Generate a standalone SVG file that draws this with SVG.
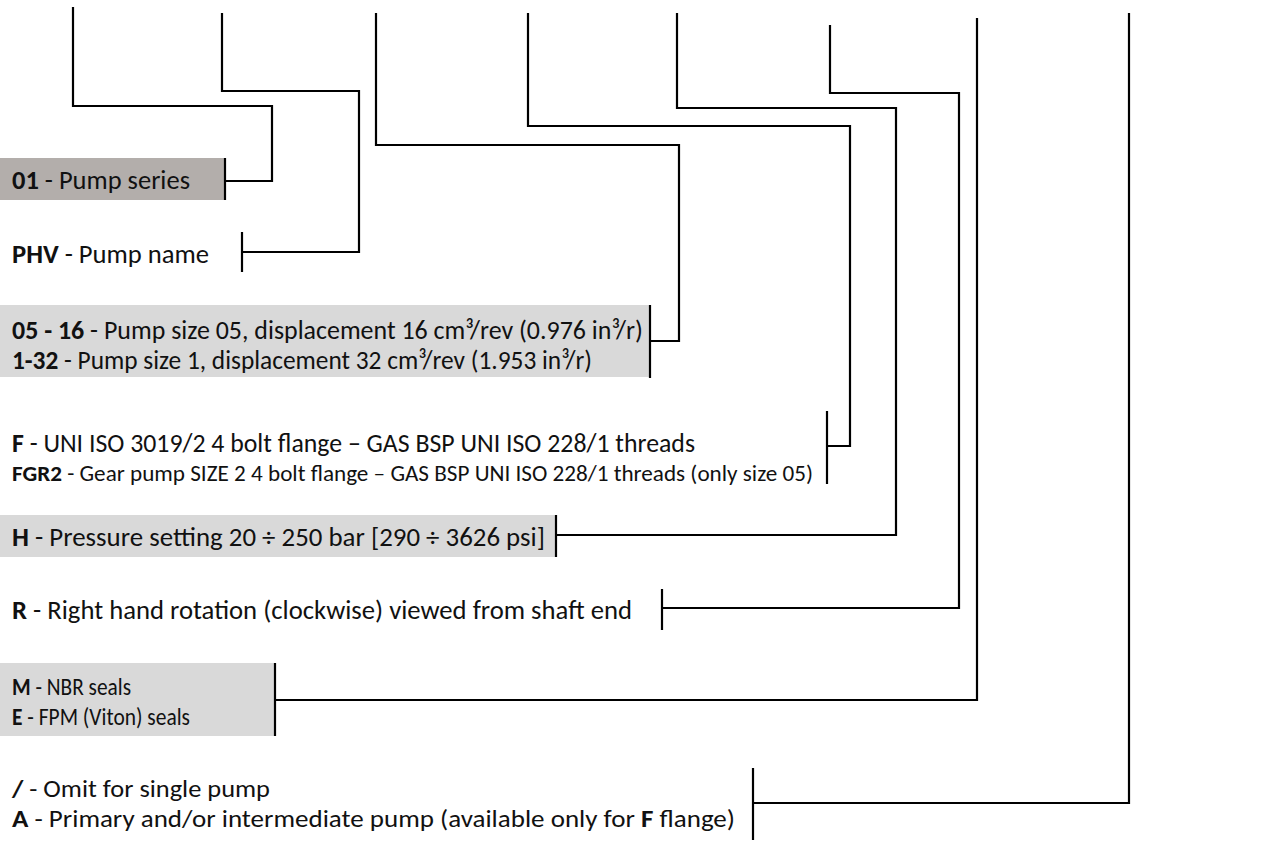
<svg xmlns="http://www.w3.org/2000/svg" width="1272" height="843" viewBox="0 0 1272 843">
<style>
.t{font-family:Carlito,"Open Sans","Liberation Sans",sans-serif;font-size:26px;fill:#111}
.s{font-size:23px}
.m{font-size:24px}
.b{font-weight:bold}
.ln{fill:none;stroke:#000;stroke-width:2.2;stroke-linejoin:miter;stroke-linecap:butt}
.g1{fill:#b3aeab}
.g2{fill:#d9d9d9}
</style>
<rect width="1272" height="843" fill="#fff"/>
<g id="n01">
<rect class="g1" x="0" y="158" width="224" height="42"/>
<text class="t" x="12" y="189" textLength="178" lengthAdjust="spacingAndGlyphs"><tspan class="b">01</tspan> - Pump series</text>
</g>
<g id="nPHV">
<text class="t" x="12" y="263" textLength="197" lengthAdjust="spacingAndGlyphs"><tspan class="b">PHV</tspan> - Pump name</text>
</g>
<g id="nSize">
<rect class="g2" x="0" y="305" width="650" height="72"/>
<text class="t" x="12" y="339" textLength="631" lengthAdjust="spacingAndGlyphs"><tspan class="b">05 - 16</tspan> - Pump size 05, displacement 16 cm³/rev (0.976 in³/r)</text>
<text class="t" x="12" y="369" textLength="580" lengthAdjust="spacingAndGlyphs"><tspan class="b">1-32</tspan> - Pump size 1, displacement 32 cm³/rev (1.953 in³/r)</text>
</g>
<g id="nFlange">
<text class="t" x="12" y="452" textLength="683" lengthAdjust="spacingAndGlyphs"><tspan class="b">F</tspan> - UNI ISO 3019/2 4 bolt flange – GAS BSP UNI ISO 228/1 threads</text>
<text class="t s" x="12" y="481" textLength="801" lengthAdjust="spacingAndGlyphs"><tspan class="b">FGR2</tspan> - Gear pump SIZE 2 4 bolt flange – GAS BSP UNI ISO 228/1 threads (only size 05)</text>
</g>
<g id="nH">
<rect class="g2" x="0" y="515" width="556" height="42"/>
<text class="t" x="12" y="546" textLength="533" lengthAdjust="spacingAndGlyphs"><tspan class="b">H</tspan> - Pressure setting 20 ÷ 250 bar [290 ÷ 3626 psi]</text>
</g>
<g id="nR">
<text class="t" x="12" y="619" textLength="620" lengthAdjust="spacingAndGlyphs"><tspan class="b">R</tspan> - Right hand rotation (clockwise) viewed from shaft end</text>
</g>
<g id="nSeals">
<rect class="g2" x="0" y="663" width="275" height="73"/>
<text class="t m" x="12" y="695" textLength="119" lengthAdjust="spacingAndGlyphs"><tspan class="b">M</tspan> - NBR seals</text>
<text class="t m" x="12" y="725" textLength="178" lengthAdjust="spacingAndGlyphs"><tspan class="b">E</tspan> - FPM (Viton) seals</text>
</g>
<g id="nPump">
<text class="t m" x="12" y="797" textLength="258" lengthAdjust="spacingAndGlyphs"><tspan class="b">/</tspan> - Omit for single pump</text>
<text class="t m" x="12" y="827" textLength="723" lengthAdjust="spacingAndGlyphs"><tspan class="b">A</tspan> - Primary and/or intermediate pump (available only for <tspan class="b">F</tspan> flange)</text>
</g>
<g id="connectors">
<path class="ln" d="M73 7V106H272V181H225"/>
<path class="ln" d="M225 158V200"/>
<path class="ln" d="M222 13V91H359V252H242"/>
<path class="ln" d="M242 232V272"/>
<path class="ln" d="M376 13V145H679V341H650"/>
<path class="ln" d="M650 305V378"/>
<path class="ln" d="M528 13V126H850V446H827"/>
<path class="ln" d="M827 411V484"/>
<path class="ln" d="M677 13V108H896V535H556"/>
<path class="ln" d="M556 515V557"/>
<path class="ln" d="M830 25V93H959V608H662"/>
<path class="ln" d="M662 589V630"/>
<path class="ln" d="M977 18V700H275"/>
<path class="ln" d="M275 663V736"/>
<path class="ln" d="M1129 13V803H753"/>
<path class="ln" d="M753 768V840"/>
</g>
</svg>
